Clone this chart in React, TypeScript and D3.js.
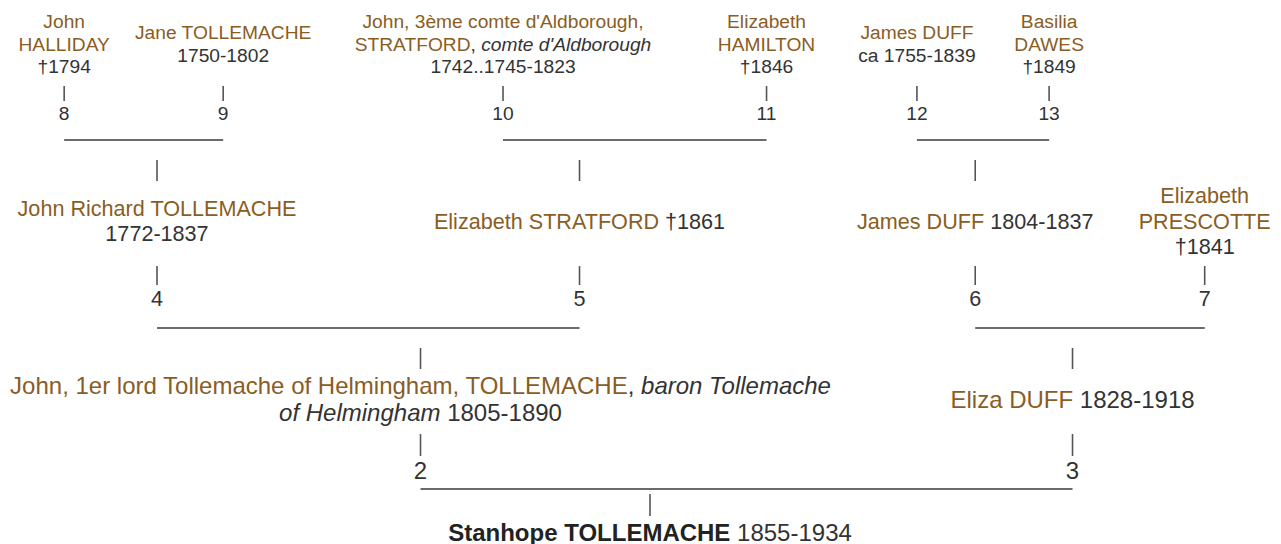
import { useEffect, useRef } from 'react';
import * as d3 from 'd3';

type Kind = 'name' | 'root' | 'title' | 'plain';
type Seg = [string, Kind];

// Sosa numbers shown in the tree (14 and 15 are unknown)
const sosa = [1, 2, 3, 4, 5, 6, 7, 8, 9, 10, 11, 12, 13];

// each person's label, line by line, in the order of `sosa`
const personLines: Seg[][][] = [
  [[['Stanhope TOLLEMACHE', 'root'], [' 1855-1934', 'plain']]],
  [
    [['John, 1er lord Tollemache of Helmingham, TOLLEMACHE', 'name'], [', ', 'plain'], ['baron Tollemache', 'title']],
    [['of Helmingham', 'title'], [' 1805-1890', 'plain']],
  ],
  [[['Eliza DUFF', 'name'], [' 1828-1918', 'plain']]],
  [[['John Richard TOLLEMACHE', 'name']], [['1772-1837', 'plain']]],
  [[['Elizabeth STRATFORD', 'name'], [' †1861', 'plain']]],
  [[['James DUFF', 'name'], [' 1804-1837', 'plain']]],
  [[['Elizabeth', 'name']], [['PRESCOTTE', 'name']], [['†1841', 'plain']]],
  [[['John', 'name']], [['HALLIDAY', 'name']], [['†1794', 'plain']]],
  [[['Jane TOLLEMACHE', 'name']], [['1750-1802', 'plain']]],
  [
    [["John, 3ème comte d'Aldborough,", 'name']],
    [['STRATFORD', 'name'], [', ', 'plain'], ["comte d'Aldborough", 'title']],
    [['1742..1745-1823', 'plain']],
  ],
  [[['Elizabeth', 'name']], [['HAMILTON', 'name']], [['†1846', 'plain']]],
  [[['James DUFF', 'name']], [['ca 1755-1839', 'plain']]],
  [[['Basilia', 'name']], [['DAWES', 'name']], [['†1849', 'plain']]],
];

// row layout per generation (0 = root at the bottom)
const genRows = [
  { size: 24, lead: 27, mid: 533, up: [494, 516] },
  { size: 24, lead: 27, mid: 399.5, up: [348, 369], down: [434, 456], num: 471, link: 489 },
  { size: 21.6, lead: 25.5, mid: 221, up: [160, 181], down: [266, 285], num: 298, link: 328 },
  { size: 19.2, lead: 22.5, mid: 44, up: [0, 0], down: [86, 101], num: 113, link: 140 },
];

const W = 1281;
const H = 544;
// the tree table runs a little past the right edge of the window
const TABLE_LEFT = -2;
const TABLE_RIGHT = 1302;
const FONT = '"Liberation Sans", Arial, Helvetica, sans-serif';
const NAME_COLOR = '#8a5d24';
const TEXT_COLOR = '#333';

const segStyle = (t: d3.Selection<SVGTSpanElement, unknown, null, undefined>, kind: Kind) => {
  t.attr('fill', kind === 'name' ? NAME_COLOR : kind === 'root' ? '#222' : TEXT_COLOR)
    .style('font-weight', kind === 'root' ? 'bold' : 'normal')
    .style('font-style', kind === 'title' ? 'italic' : 'normal');
};

export default function App() {
  const svgRef = useRef<SVGSVGElement>(null);

  useEffect(() => {
    if (!svgRef.current) return;
    const svg = d3.select(svgRef.current);
    svg.selectAll('*').remove();

    const root = d3.hierarchy<number>(1, n => [2 * n, 2 * n + 1].filter(k => sosa.includes(k)));
    const nodes = root.descendants();

    // scratch text for measuring widths
    const scratch = svg.append('text').style('font-family', FONT).attr('visibility', 'hidden');
    const measure = (segs: Seg[], size: number) => {
      scratch.selectAll('*').remove();
      scratch.style('font-size', size + 'px').style('white-space', 'pre');
      segs.forEach(([s, k]) => segStyle(scratch.append('tspan').text(s), k));
      return (scratch.node() as SVGTextElement).getComputedTextLength();
    };

    // leaf columns sized like an auto table: min-content + share of (max-content - min-content)
    const leaves = root.leaves();
    const cols = leaves.map(d => {
      const size = genRows[d.depth].size;
      const lines = personLines[sosa.indexOf(d.data)];
      const flat: Seg[] = [];
      lines.forEach((line, i) => {
        if (i > 0) flat.push([' ', 'plain']);
        flat.push(...line);
      });
      const maxW = measure(flat, size);
      let minW = 0;
      flat.forEach(([s, k]) => s.split(' ').filter(w => w).forEach(w => {
        minW = Math.max(minW, measure([[w, k]], size));
      }));
      return { id: d.data, minW, maxW };
    });
    scratch.remove();

    const sumMin = d3.sum(cols, c => c.minW);
    const sumMax = d3.sum(cols, c => c.maxW);
    const share = (TABLE_RIGHT - TABLE_LEFT - sumMin) / (sumMax - sumMin);
    const span = new Map<number, [number, number]>();
    let cursor = TABLE_LEFT;
    cols.forEach(c => {
      const w = c.minW + share * (c.maxW - c.minW);
      span.set(c.id, [cursor, cursor + w]);
      cursor += w;
    });
    root.eachAfter(d => {
      if (!d.children) return;
      span.set(d.data, [
        d3.min(d.children, c => span.get(c.data)![0])!,
        d3.max(d.children, c => span.get(c.data)![1])!,
      ]);
    });
    const cx = (n: number) => (span.get(n)![0] + span.get(n)![1]) / 2;

    // person labels
    const blocks = svg.append('g')
      .style('font-family', FONT)
      .selectAll<SVGGElement, d3.HierarchyNode<number>>('g')
      .data(nodes)
      .join('g')
      .attr('transform', d => `translate(${cx(d.data)},0)`);

    blocks.each(function (d) {
      const row = genRows[d.depth];
      const lines = personLines[sosa.indexOf(d.data)];
      const g = d3.select(this);
      lines.forEach((line, i) => {
        const text = g.append('text')
          .attr('text-anchor', 'middle')
          .attr('y', row.mid + (i - (lines.length - 1) / 2) * row.lead)
          .attr('dy', '0.35em')
          .style('font-size', row.size + 'px')
          .style('white-space', 'pre');
        line.forEach(([str, kind]) => segStyle(text.append('tspan').text(str), kind));
      });
    });

    const marks = svg.append('g');

    // tick above a person who has parents
    marks.selectAll('line.up')
      .data(nodes.filter(d => d.children))
      .join('line')
      .attr('class', 'up')
      .attr('x1', d => cx(d.data)).attr('x2', d => cx(d.data))
      .attr('y1', d => genRows[d.depth].up[0]).attr('y2', d => genRows[d.depth].up[1])
      .attr('stroke', '#555').attr('stroke-width', 1.6);

    // tick below each ancestor, then the sosa number
    const anc = nodes.filter(d => d.depth > 0);
    marks.selectAll('line.down')
      .data(anc)
      .join('line')
      .attr('class', 'down')
      .attr('x1', d => cx(d.data)).attr('x2', d => cx(d.data))
      .attr('y1', d => genRows[d.depth].down![0]).attr('y2', d => genRows[d.depth].down![1])
      .attr('stroke', '#555').attr('stroke-width', 1.6);

    marks.selectAll('text')
      .data(anc)
      .join('text')
      .attr('x', d => cx(d.data))
      .attr('y', d => genRows[d.depth].num!)
      .attr('dy', '0.35em')
      .attr('text-anchor', 'middle')
      .attr('fill', TEXT_COLOR)
      .style('font-family', FONT)
      .style('font-size', d => genRows[d.depth].size + 'px')
      .text(d => d.data);

    // horizontal bar joining each couple
    marks.selectAll('line.link')
      .data(nodes.filter(d => d.children && d.children.length === 2))
      .join('line')
      .attr('class', 'link')
      .attr('x1', d => cx(d.children![0].data)).attr('x2', d => cx(d.children![1].data))
      .attr('y1', d => genRows[d.depth + 1].link!).attr('y2', d => genRows[d.depth + 1].link!)
      .attr('stroke', '#6b6b6b').attr('stroke-width', 2);
  }, []);

  return (
    <svg
      ref={svgRef}
      width={W}
      height={H}
      style={{ position: 'absolute', left: 0, top: 0, background: '#fff' }}
    />
  );
}
